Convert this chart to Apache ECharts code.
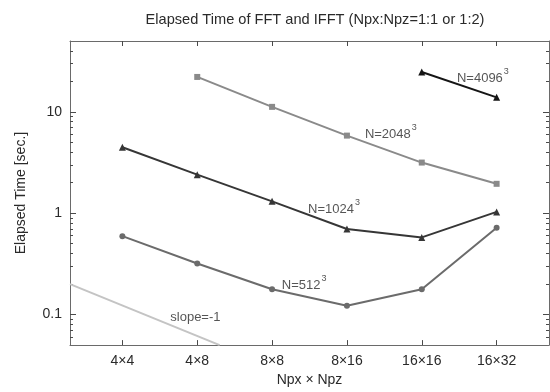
<!DOCTYPE html>
<html>
<head>
<meta charset="utf-8">
<script src="https://cdn.jsdelivr.net/npm/echarts@6/dist/echarts.min.js"></script>
<style>html,body{margin:0;padding:0;background:#fff}#c{width:550px;height:392px}</style>
</head>
<body>
<div id="c"></div>
<script>
// ---- data ----
var categories = ['4\u00d74', '4\u00d78', '8\u00d78', '8\u00d716', '16\u00d716', '16\u00d732'];
var xPos = [1, 2, 3, 4, 5, 6];
var n512  = [0.594, 0.319, 0.178, 0.122, 0.178, 0.72];
var n1024 = [4.47, 2.40, 1.31, 0.698, 0.577, 1.03];
var n2048 = [null, 22.1, 11.2, 5.83, 3.16, 1.95];
var n4096 = [null, null, null, null, 24.7, 13.9];
var slopeX = [0.3, 2.3];
var slopeY = [0.2, 0.05];
var yMajorTicks = [0.1, 1, 10];
var yMajorLabels = ['0.1', '1', '10'];
var yMinorTicks = [0.06, 0.07, 0.08, 0.09, 0.2, 0.3, 0.4, 0.5, 0.6, 0.7, 0.8, 0.9,
                   2, 3, 4, 5, 6, 7, 8, 9, 20, 30, 40];
var yMin = 0.05, yMax = 50;
var annotations = [
  {name: 'N=4096', x: 5.47, y: 22.6},
  {name: 'N=2048', x: 4.24, y: 6.28},
  {name: 'N=1024', x: 3.48, y: 1.16},
  {name: 'N=512',  x: 3.13, y: 0.206}
];
var slopeLabel = {name: 'slope=-1', x: 1.64, y: 0.1};

// ---- build ----
var L = function (v) { return Math.log10(v); };
function pts(arr) {
  var out = [];
  arr.forEach(function (v, i) { if (v != null) out.push([xPos[i], L(v)]); });
  return out;
}
var FONT = 'Liberation Sans, Arial, Helvetica, sans-serif';
var axisColor = '#6a6a6a';
var tickColor = '#4a4a4a';
var textColor = '#2a2a2a';

function yAxis(pos, major, showLabel, showLine) {
  return {
    type: 'value', position: pos,
    min: L(yMin), max: L(yMax),
    name: showLabel ? 'Elapsed Time [sec.]' : '',
    nameLocation: 'middle', nameGap: 42,
    nameTextStyle: {fontFamily: FONT, fontSize: 14, color: textColor},
    axisLine: {show: showLine, lineStyle: {color: showLine ? axisColor : 'rgba(0,0,0,0)', width: 1}},
    axisTick: {show: true, inside: true, length: major ? 6 : 3,
      customValues: (major ? yMajorTicks : yMinorTicks).map(L),
      lineStyle: {color: tickColor, width: 1}},
    axisLabel: {show: showLabel, margin: 8, fontFamily: FONT, fontSize: 14, color: textColor,
      customValues: yMajorTicks.map(L),
      formatter: function (v) {
        var best = 0, d = 1e9;
        yMajorTicks.forEach(function (t, i) { var dd = Math.abs(L(t) - v); if (dd < d) { d = dd; best = i; } });
        return yMajorLabels[best];
      }},
    splitLine: {show: false}
  };
}
function xAxis(pos, showLabel) {
  return {
    type: 'value', position: pos, min: 0.3, max: 6.7,
    name: showLabel ? 'Npx \u00d7 Npz' : '',
    nameLocation: 'middle', nameGap: 23,
    nameTextStyle: {fontFamily: FONT, fontSize: 14, color: textColor},
    axisLine: {show: true, onZero: false, lineStyle: {color: axisColor, width: 1}},
    axisTick: {show: true, inside: true, length: 5, customValues: xPos, lineStyle: {color: tickColor, width: 1}},
    axisLabel: {show: showLabel, margin: 9, fontFamily: FONT, fontSize: 14, color: textColor,
      customValues: xPos,
      formatter: function (v) { return categories[Math.round(v) - 1] || ''; }},
    splitLine: {show: false}
  };
}
function lineSeries(name, arr, color, symbol, size) {
  return {
    type: 'line', name: name, data: pts(arr), xAxisIndex: 0, yAxisIndex: 0,
    symbol: symbol, symbolSize: size, showSymbol: true,
    lineStyle: {color: color, width: 2}, itemStyle: {color: color},
    emphasis: {disabled: true}, animation: false, z: 3
  };
}
var richStyle = {
  b: {fontFamily: FONT, fontSize: 13, color: textColor, lineHeight: 18, verticalAlign: 'bottom'},
  s: {fontFamily: FONT, fontSize: 9, color: textColor, lineHeight: 18, verticalAlign: 'top', padding: [0, 0, 0, 1]}
};
var annData = annotations.map(function (a) {
  return {value: [a.x, L(a.y)], label: {formatter: '{b|' + a.name + '}{s|3}'}};
});
annData.push({value: [slopeLabel.x, L(slopeLabel.y)], label: {formatter: '{b|' + slopeLabel.name + '}'}});

var option = {
  animation: false,
  backgroundColor: '#fff',
  title: {
    text: 'Elapsed Time of FFT and IFFT (Npx:Npz=1:1 or 1:2)',
    left: 310, top: 7, textAlign: 'center',
    textStyle: {fontFamily: FONT, fontSize: 14.6, fontWeight: 'normal', color: textColor}
  },
  grid: {left: 70, right: 1, top: 41, bottom: 43, containLabel: false},
  xAxis: [xAxis('bottom', true), xAxis('top', false)],
  yAxis: [yAxis('left', true, true, true), yAxis('left', false, false, false),
          yAxis('right', true, false, true), yAxis('right', false, false, false)],
  series: [
    {type: 'line', data: slopeX.map(function (x, i) { return [x, L(slopeY[i])]; }),
     symbol: 'none', lineStyle: {color: '#c4c4c4', width: 2}, z: 2, emphasis: {disabled: true}},
    lineSeries('N=512', n512, '#6b6b6b', 'circle', 6),
    lineSeries('N=1024', n1024, '#363636', 'triangle', 7),
    lineSeries('N=2048', n2048, '#8a8a8a', 'rect', 6),
    lineSeries('N=4096', n4096, '#151515', 'triangle', 7),
    {type: 'scatter', data: annData, symbolSize: 0, z: 5,
     label: {show: true, position: 'right', distance: 0, rich: richStyle},
     emphasis: {disabled: true}}
  ]
};
var chart = echarts.init(document.getElementById('c'), null, {renderer: 'canvas'});
chart.setOption(option);
</script>
</body>
</html>
